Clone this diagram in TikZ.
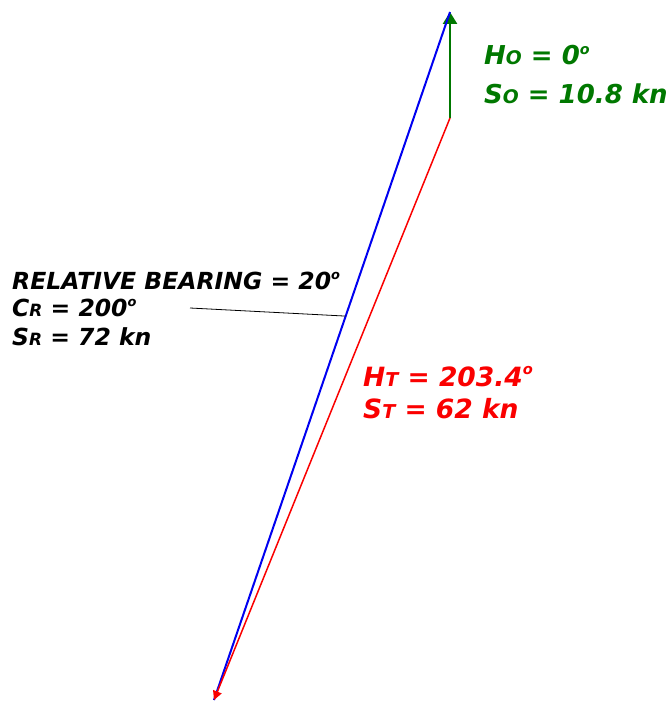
\documentclass[tikz,border=0pt]{standalone}
\usepackage{fontspec}
\setmainfont{DejaVu Sans}
\usetikzlibrary{arrows.meta, calc}
\definecolor{owngreen}{RGB}{0,120,0}
\definecolor{relblue}{RGB}{0,0,240}
\definecolor{truered}{RGB}{250,0,0}
\newcommand{\sub}[1]{{\fontsize{0.72em}{1em}\selectfont #1}}
\newcommand{\ord}{\raisebox{0.42em}{\fontsize{0.55em}{1em}\selectfont o}}

\begin{document}
\begin{tikzpicture}[
    x=1pt, y=-1pt,
    lbl/.style={
        anchor=base west,
        inner sep=0pt,
        font=\bfseries\itshape
    },
    own/.style={lbl, text=owngreen, font=\fontsize{26}{30}\selectfont\bfseries\itshape},
    rel/.style={lbl, text=black, font=\fontsize{23.5}{27}\selectfont\bfseries\itshape},
    tru/.style={lbl, text=truered, font=\fontsize{26.5}{30}\selectfont\bfseries\itshape}
]
    \useasboundingbox (0,0) rectangle (669,701);

    % --- vector end points ---
    \coordinate (ownstart) at (450,118);
    \coordinate (apex)     at (450,12);
    \coordinate (tip)      at (214,700);
    \coordinate (lead)     at (190,308);
    \coordinate (leadend)  at ($(tip)!0.558!(apex)$);

    % --- own ship vector ---
    \draw[owngreen, line width=2.6pt, -{Triangle[width=14pt,length=12pt]}] (ownstart) -- (apex);

    % --- relative and true vectors ---
    \draw[relblue, line width=2pt] (tip) -- (apex);
    \draw[truered, line width=1.5pt, -{Triangle[width=9pt,length=9pt]}] (ownstart) -- (tip);

    % --- leader for relative label ---
    \draw[black, line width=0.8pt] (lead) -- (leadend);

    % --- labels ---
    \node[own] (ho) at (484,65)  {H\sub{O} = 0\ord};
    \node[own] (so) at (484,103) {S\sub{O} = 10.8 kn};

    \node[rel] (rb) at (12,289) {RELATIVE BEARING = 20\ord};
    \node[rel] (cr) at (12,316) {C\sub{R} = 200\ord};
    \node[rel] (sr) at (12,345) {S\sub{R} = 72 kn};

    \node[tru] (ht) at (363,386) {H\sub{T} = 203.4\ord};
    \node[tru] (st) at (363,418) {S\sub{T} = 62 kn};

\end{tikzpicture}
\end{document}
